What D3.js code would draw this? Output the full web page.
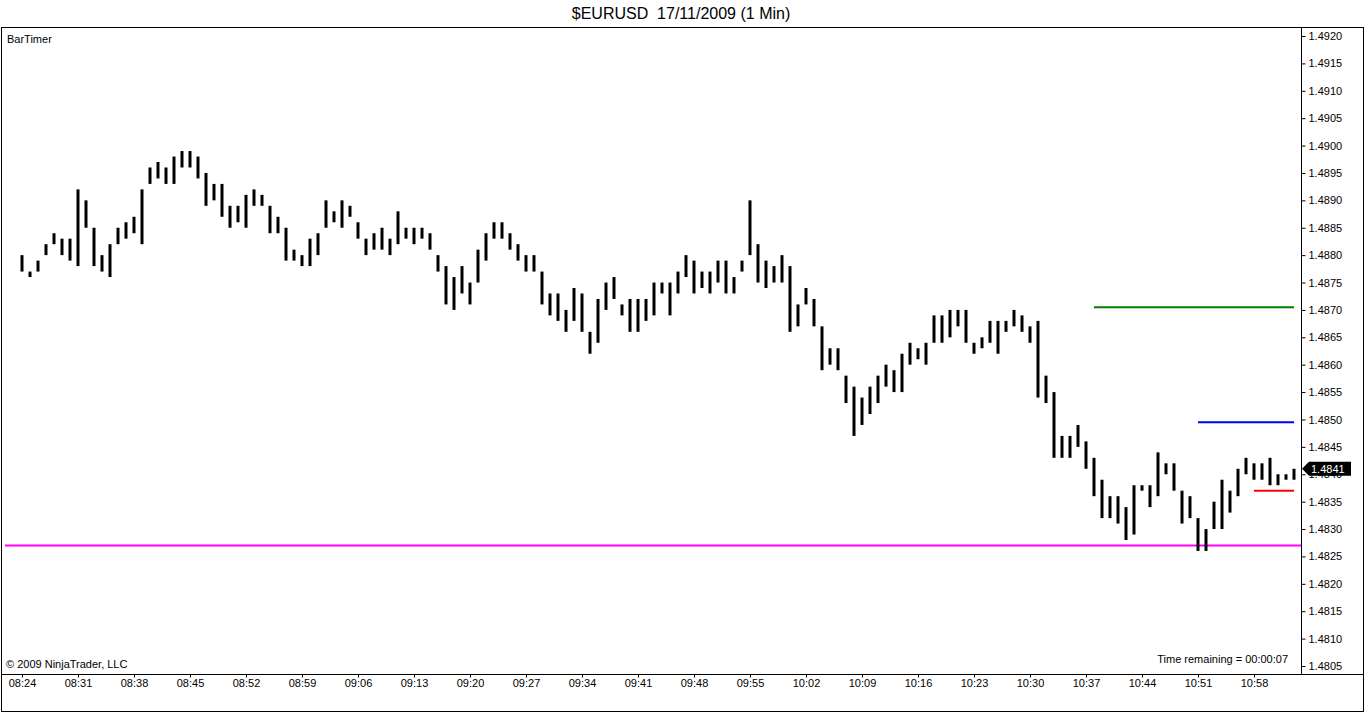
<!DOCTYPE html>
<html><head><meta charset="utf-8">
<script src="https://cdn.jsdelivr.net/npm/d3@7"></script>
<style>body{margin:0;background:#fff;font-family:"Liberation Sans",Arial,sans-serif}</style>
</head><body><svg id="c" width="1366" height="714"></svg>
<script>
const highs = [1.4880,1.4877,1.4879,1.4882,1.4884,1.4883,1.4883,1.4892,1.4890,1.4885,1.4880,1.4882,1.4885,1.4886,1.4887,1.4892,1.4896,1.4897,1.4896,1.4898,
1.4899,1.4899,1.4898,1.4895,1.4893,1.4893,1.4889,1.4889,1.4891,1.4892,1.4891,1.4889,1.4887,1.4885,1.4881,1.4880,1.4883,1.4884,1.4890,1.4888,
1.4890,1.4889,1.4886,1.4883,1.4884,1.4885,1.4883,1.4888,1.4885,1.4885,1.4885,1.4884,1.4880,1.4878,1.4876,1.4878,1.4875,1.4881,1.4884,1.4886,
1.4886,1.4884,1.4882,1.4880,1.4880,1.4877,1.4873,1.4873,1.4870,1.4874,1.4873,1.4866,1.4872,1.4875,1.4876,1.4871,1.4872,1.4872,1.4872,1.4875,
1.4875,1.4875,1.4877,1.4880,1.4879,1.4877,1.4877,1.4879,1.4879,1.4876,1.4879,1.4890,1.4882,1.4879,1.4878,1.4880,1.4878,1.4871,1.4874,1.4872,
1.4867,1.4863,1.4863,1.4858,1.4856,1.4854,1.4856,1.4858,1.4860,1.4859,1.4862,1.4864,1.4863,1.4864,1.4869,1.4869,1.4870,1.4870,1.4870,1.4864,
1.4865,1.4868,1.4868,1.4868,1.4870,1.4869,1.4867,1.4868,1.4858,1.4855,1.4847,1.4847,1.4849,1.4846,1.4843,1.4839,1.4836,1.4836,1.4834,1.4838,
1.4838,1.4838,1.4844,1.4842,1.4842,1.4837,1.4836,1.4832,1.4830,1.4835,1.4839,1.4837,1.4841,1.4843,1.4842,1.4842,1.4843,1.4840,1.4840,1.4841];
const lows = [1.4877,1.4876,1.4877,1.4880,1.4882,1.4880,1.4879,1.4878,1.4885,1.4878,1.4877,1.4876,1.4882,1.4883,1.4884,1.4882,1.4893,1.4894,1.4893,1.4893,
1.4896,1.4896,1.4894,1.4889,1.4890,1.4887,1.4885,1.4886,1.4885,1.4889,1.4889,1.4884,1.4884,1.4879,1.4879,1.4878,1.4878,1.4880,1.4885,1.4886,
1.4885,1.4887,1.4883,1.4880,1.4881,1.4881,1.4880,1.4882,1.4883,1.4882,1.4883,1.4881,1.4877,1.4871,1.4870,1.4873,1.4871,1.4875,1.4879,1.4883,
1.4883,1.4881,1.4879,1.4877,1.4877,1.4871,1.4869,1.4868,1.4866,1.4868,1.4866,1.4862,1.4864,1.4870,1.4872,1.4869,1.4866,1.4866,1.4868,1.4869,
1.4873,1.4869,1.4873,1.4876,1.4873,1.4874,1.4873,1.4875,1.4873,1.4873,1.4877,1.4880,1.4875,1.4874,1.4875,1.4875,1.4866,1.4867,1.4871,1.4867,
1.4859,1.4860,1.4859,1.4853,1.4847,1.4849,1.4851,1.4853,1.4856,1.4855,1.4855,1.4860,1.4861,1.4860,1.4864,1.4864,1.4865,1.4867,1.4864,1.4862,
1.4863,1.4864,1.4862,1.4866,1.4867,1.4866,1.4864,1.4854,1.4853,1.4843,1.4843,1.4843,1.4845,1.4841,1.4836,1.4832,1.4832,1.4831,1.4828,1.4829,
1.4837,1.4834,1.4836,1.4840,1.4837,1.4831,1.4832,1.4826,1.4826,1.4830,1.4830,1.4833,1.4836,1.4840,1.4839,1.4839,1.4838,1.4838,1.4839,1.4839];
const xTickIndex = [0,7,14,21,28,35,42,49,56,63,70,77,84,91,98,105,112,119,126,133,140,147,154];
const xTickLabels = ["08:24","08:31","08:38","08:45","08:52","08:59","09:06","09:13","09:20","09:27","09:34","09:41","09:48","09:55","10:02","10:09","10:16","10:23","10:30","10:37","10:44","10:51","10:58"];
const yTicks = [1.4805,1.4810,1.4815,1.4820,1.4825,1.4830,1.4835,1.4840,1.4845,1.4850,1.4855,1.4860,1.4865,1.4870,1.4875,1.4880,1.4885,1.4890,1.4895,1.4900,1.4905,1.4910,1.4915,1.4920];
const levels = [
  {value:1.48705, from:134, color:"#008000"},
  {value:1.48495, from:147, color:"#0000ff"},
  {value:1.4837, from:154, color:"#ff0000"}
];
const lowLevel = 1.4827;
const lastPrice = 1.4841;
const title = "$EURUSD  17/11/2009 (1 Min)";

const svg = d3.select("#c");
const plotL = 1, plotR = 1301, plotT = 27, plotB = 674;
const x = d3.scaleLinear().domain([0, 159]).range([22, 1294]);
const y = d3.scaleLinear().domain([1.4805, 1.4920]).range([666, 36]);

svg.append("text").attr("x", 681).attr("y", 19).attr("text-anchor","middle")
  .style("font-size","16px").style("white-space","pre").attr("xml:space","preserve").text(title);

// plot frame
svg.append("rect").attr("x", plotL+0.5).attr("y", plotT+0.5).attr("width", 1364-plotL-1).attr("height", 712-plotT-1)
  .attr("fill","none").attr("stroke","#000");
svg.append("line").attr("x1", plotR+0.5).attr("x2", plotR+0.5).attr("y1", plotT).attr("y2", plotB)
  .attr("stroke","#000");
svg.append("line").attr("x1", plotL).attr("x2", 1364).attr("y1", plotB+0.5).attr("y2", plotB+0.5)
  .attr("stroke","#000");

// y axis
const yAxis = d3.axisRight(y).tickValues(yTicks).tickFormat(d3.format(".4f")).tickSize(4).tickPadding(3);
const gy = svg.append("g").attr("transform", `translate(${plotR+0.5},0)`).call(yAxis);
gy.select(".domain").remove();
gy.selectAll("text").style("font-size","11px").style("font-family","'Liberation Sans',Arial,sans-serif").attr("fill","#000");

// x axis
const gx = svg.append("g").attr("transform", `translate(0,${plotB+0.5})`)
  .call(d3.axisBottom(x).tickValues(xTickIndex).tickFormat((d,i)=>xTickLabels[i]).tickSize(3).tickPadding(2));
gx.select(".domain").remove();
gx.selectAll("text").style("font-size","11px").style("font-family","'Liberation Sans',Arial,sans-serif").attr("fill","#000");

// low level line (magenta)
svg.append("line").attr("x1", 5).attr("x2", plotR).attr("y1", y(lowLevel)).attr("y2", y(lowLevel))
  .attr("stroke","#ff00ff").attr("stroke-width",2);

// levels
svg.selectAll(".lvl").data(levels).enter().append("line")
  .attr("x1", d=>x(d.from)).attr("x2", x(159)).attr("y1", d=>y(d.value)).attr("y2", d=>y(d.value))
  .attr("stroke", d=>d.color).attr("stroke-width",2);

// bars
svg.selectAll(".bar").data(highs).enter().append("line")
  .attr("x1",(d,i)=>x(i)).attr("x2",(d,i)=>x(i))
  .attr("y1",(d,i)=>y(highs[i])).attr("y2",(d,i)=>y(lows[i]))
  .attr("stroke","#000").attr("stroke-width",3);

// last price marker
const ly = y(lastPrice);
svg.append("path").attr("d", `M${plotR+1},${ly} L${plotR+8},${ly-7} L${plotR+50},${ly-7} L${plotR+50},${ly+7} L${plotR+8},${ly+7} Z`).attr("fill","#000");
svg.append("text").attr("x", plotR+10).attr("y", ly+4).attr("fill","#fff").style("font-size","11px").text(d3.format(".4f")(lastPrice));

svg.append("text").attr("x", 7).attr("y", 43).style("font-size","11px").text("BarTimer");
svg.append("text").attr("x", 6).attr("y", 668).style("font-size","11px").text("© 2009 NinjaTrader, LLC");
svg.append("text").attr("x", 1288).attr("y", 663).attr("text-anchor","end").style("font-size","11px").text("Time remaining = 00:00:07");
</script></body></html>
